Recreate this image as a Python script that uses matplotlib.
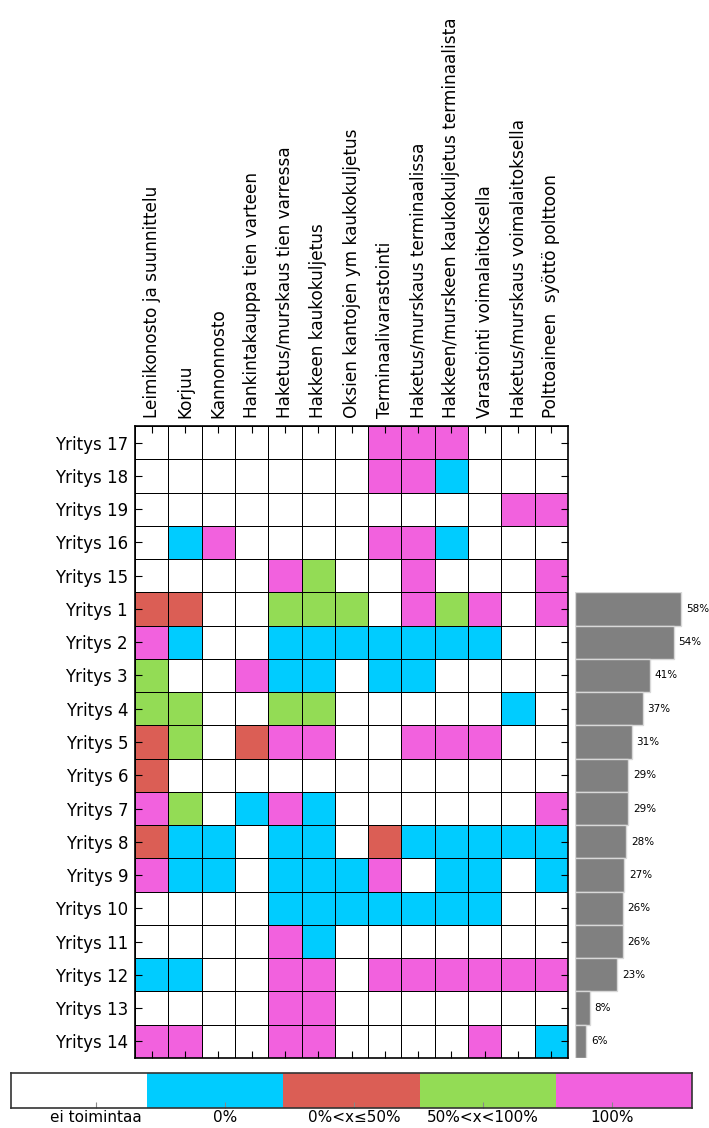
import numpy as np
import matplotlib
matplotlib.use("Agg")
import matplotlib.pyplot as plt
from matplotlib.colors import ListedColormap, BoundaryNorm

# data
tasks = [
    "Leimikonosto ja suunnittelu",
    "Korjuu",
    "Kannonnosto",
    "Hankintakauppa tien varteen",
    "Haketus/murskaus tien varressa",
    "Hakkeen kaukokuljetus",
    "Oksien kantojen ym kaukokuljetus",
    "Terminaalivarastointi",
    "Haketus/murskaus terminaalissa",
    "Hakkeen/murskeen kaukokuljetus terminaalista",
    "Varastointi voimalaitoksella",
    "Haketus/murskaus voimalaitoksella",
    "Polttoaineen  syöttö polttoon",
]
companies = ["Yritys 17", "Yritys 18", "Yritys 19", "Yritys 16", "Yritys 15",
             "Yritys 1", "Yritys 2", "Yritys 3", "Yritys 4", "Yritys 5",
             "Yritys 6", "Yritys 7", "Yritys 8", "Yritys 9", "Yritys 10",
             "Yritys 11", "Yritys 12", "Yritys 13", "Yritys 14"]
# 0 = ei toimintaa, 1 = 0%, 2 = 0%<x<=50%, 3 = 50%<x<100%, 4 = 100%
status = [
    [0, 0, 0, 0, 0, 0, 0, 4, 4, 4, 0, 0, 0],
    [0, 0, 0, 0, 0, 0, 0, 4, 4, 1, 0, 0, 0],
    [0, 0, 0, 0, 0, 0, 0, 0, 0, 0, 0, 4, 4],
    [0, 1, 4, 0, 0, 0, 0, 4, 4, 1, 0, 0, 0],
    [0, 0, 0, 0, 4, 3, 0, 0, 4, 0, 0, 0, 4],
    [2, 2, 0, 0, 3, 3, 3, 0, 4, 3, 4, 0, 4],
    [4, 1, 0, 0, 1, 1, 1, 1, 1, 1, 1, 0, 0],
    [3, 0, 0, 4, 1, 1, 0, 1, 1, 0, 0, 0, 0],
    [3, 3, 0, 0, 3, 3, 0, 0, 0, 0, 0, 1, 0],
    [2, 3, 0, 2, 4, 4, 0, 0, 4, 4, 4, 0, 0],
    [2, 0, 0, 0, 0, 0, 0, 0, 0, 0, 0, 0, 0],
    [4, 3, 0, 1, 4, 1, 0, 0, 0, 0, 0, 0, 4],
    [2, 1, 1, 0, 1, 1, 0, 2, 1, 1, 1, 1, 1],
    [4, 1, 1, 0, 1, 1, 1, 4, 0, 1, 1, 0, 1],
    [0, 0, 0, 0, 1, 1, 1, 1, 1, 1, 1, 0, 0],
    [0, 0, 0, 0, 4, 1, 0, 0, 0, 0, 0, 0, 0],
    [1, 1, 0, 0, 4, 4, 0, 4, 4, 4, 4, 4, 4],
    [0, 0, 0, 0, 4, 4, 0, 0, 0, 0, 0, 0, 0],
    [4, 4, 0, 0, 4, 4, 0, 0, 0, 0, 4, 0, 1],
]
share = [58, 54, 41, 37, 31, 29, 29, 28, 27, 26, 26, 23, 8, 6]  # Yritys 1..14
legend_labels = ["ei toimintaa", "0%", "0%<x≤50%", "50%<x<100%", "100%"]

colors = ["#ffffff", "#00ccff", "#db5e55", "#93dc55", "#f261de"]
cmap = ListedColormap(colors)
norm = BoundaryNorm(np.arange(-0.5, 5.5, 1), cmap.N)

W, H = 709, 1128
fig = plt.figure(figsize=(W / 100, H / 100), dpi=100)

grid = np.array(status)
nrow, ncol = grid.shape

# main matrix
ax = fig.add_axes([135 / W, 1 - 1058 / H, 433 / W, 632 / H])
ax.pcolormesh(np.arange(ncol + 1), np.arange(nrow + 1), grid, cmap=cmap, norm=norm,
              edgecolors="k", linewidth=0.7)
ax.set_xlim(0, ncol)
ax.set_ylim(nrow, 0)
ax.set_xticks(np.arange(ncol) + 0.5)
ax.set_xticklabels(tasks, rotation=90, fontsize=12.2)
ax.set_yticks(np.arange(nrow) + 0.5)
ax.set_yticklabels(companies, fontsize=12)
ax.tick_params(direction="in", top=True, bottom=True, left=True, right=True,
               labeltop=True, labelbottom=False, length=5, width=0.8)
ax.tick_params(axis="x", pad=6)
ax.tick_params(axis="y", pad=5)
for s in ax.spines.values():
    s.set_linewidth(1.2)

# bars for Yritys 1..14
n0 = companies.index("Yritys 1")
top_px = 426 + n0 * 632 / nrow
bax = fig.add_axes([575 / W, 1 - 1058 / H, 130 / W, (1058 - top_px) / H])
ypos = np.arange(len(share)) + 0.5
bax.barh(ypos, share, height=1.0, color="#808080", edgecolor="#d8d8d8", linewidth=1)
for y, v in zip(ypos, share):
    bax.annotate(f"{v}%", (v, y), xytext=(3.5, 0), textcoords="offset points",
                 va="center", ha="left", fontsize=7.5)
bax.set_ylim(len(share), 0)
bax.set_xlim(0, 58 * 130 / 106)
bax.axis("off")

# colour legend bar
cax = fig.add_axes([11 / W, 1 - 1108 / H, 681 / W, 35 / H])
edges = np.linspace(-0.66, 4.62, 6)
cax.pcolormesh(edges, [0, 1], np.arange(5).reshape(1, 5), cmap=cmap, norm=norm)
cax.set_xlim(edges[0], edges[-1])
cax.set_ylim(0, 1)
cax.set_yticks([])
cax.set_xticks(np.arange(5))
cax.set_xticklabels(legend_labels, fontsize=11)
cax.tick_params(axis="x", direction="in", length=4, color="#888888", pad=1.5)
for s in cax.spines.values():
    s.set_linewidth(1.2)
    s.set_color("#333333")

fig.savefig("out.png", dpi=100)
